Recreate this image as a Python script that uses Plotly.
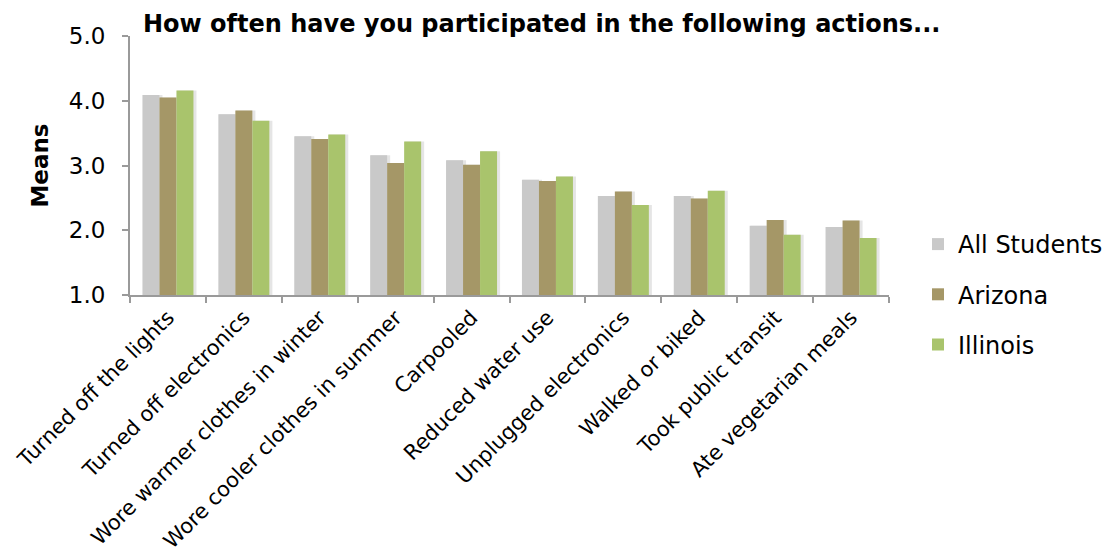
import plotly.graph_objects as go

# Survey means per action and respondent group
actions = [
    "Turned off the lights",
    "Turned off electronics",
    "Wore warmer clothes in winter",
    "Wore cooler clothes in summer",
    "Carpooled",
    "Reduced water use",
    "Unplugged electronics",
    "Walked or biked",
    "Took public transit",
    "Ate vegetarian meals",
]
all_students = [4.09, 3.79, 3.45, 3.16, 3.08, 2.78, 2.53, 2.53, 2.07, 2.05]
arizona = [4.05, 3.85, 3.41, 3.04, 3.01, 2.76, 2.60, 2.49, 2.16, 2.15]
illinois = [4.16, 3.69, 3.48, 3.37, 3.22, 2.83, 2.39, 2.61, 1.93, 1.88]

series = [
    ("All Students", all_students, "#c9c9c9"),
    ("Arizona", arizona, "#a59767"),
    ("Illinois", illinois, "#a9c46c"),
]

FONT = "DejaVu Sans, Verdana, sans-serif"
bar_w = 0.224

fig = go.Figure()

# soft drop shadow behind each bar
for i, (name, vals, color) in enumerate(series):
    fig.add_trace(go.Bar(
        x=actions, y=[v - 1 for v in vals], base=1,
        width=bar_w + 0.03, offset=-0.336 + i * bar_w + 0.01,
        marker=dict(color="rgba(0,0,0,0.10)", line=dict(width=0)),
        showlegend=False, hoverinfo="skip",
    ))

for i, (name, vals, color) in enumerate(series):
    fig.add_trace(go.Bar(
        name=name, x=actions, y=[v - 1 for v in vals], base=1,
        width=bar_w, offset=-0.336 + i * bar_w,
        marker=dict(color=color, line=dict(width=0)),
        legendgroup=name,
    ))

fig.update_layout(
    width=1107, height=558,
    barmode="overlay",
    paper_bgcolor="white", plot_bgcolor="white",
    margin=dict(l=130, r=218, t=36, b=263),
    font=dict(family=FONT, color="#000000"),
    title=dict(
        text="<b>How often have you participated in the following actions...</b>",
        font=dict(size=24, family=FONT), x=143 / 1107, xanchor="left",
        y=1 - 24 / 558, yanchor="middle",
    ),
    legend=dict(
        xref="container", yref="container",
        x=918 / 1107, xanchor="left", y=1 - 222 / 558, yanchor="top",
        font=dict(size=24, family=FONT), tracegroupgap=16,
        itemwidth=30, bgcolor="rgba(0,0,0,0)",
    ),
    showlegend=True,
)

fig.update_xaxes(
    type="category", tickangle=-45, tickson="boundaries", automargin=False,
    ticks="outside", ticklen=6, tickcolor="#9a9a9a", tickwidth=1.5,
    showline=True, linecolor="#9a9a9a", linewidth=2,
    showgrid=False, tickfont=dict(size=21, family=FONT),
)
fig.update_yaxes(
    range=[1, 5], tickvals=[1, 2, 3, 4, 5], ticktext=["1.0", "2.0", "3.0", "4.0", "5.0"],
    automargin=False,
    ticks="outside", ticklen=6, tickcolor="#9a9a9a", tickwidth=1.5,
    showline=True, linecolor="#9a9a9a", linewidth=2,
    showgrid=False, zeroline=False, tickfont=dict(size=23, family=FONT),
    ticklabelstandoff=12,
    title=dict(text="<b>Means</b>", font=dict(size=23, family=FONT), standoff=14),
)

fig.write_html("out.html")
